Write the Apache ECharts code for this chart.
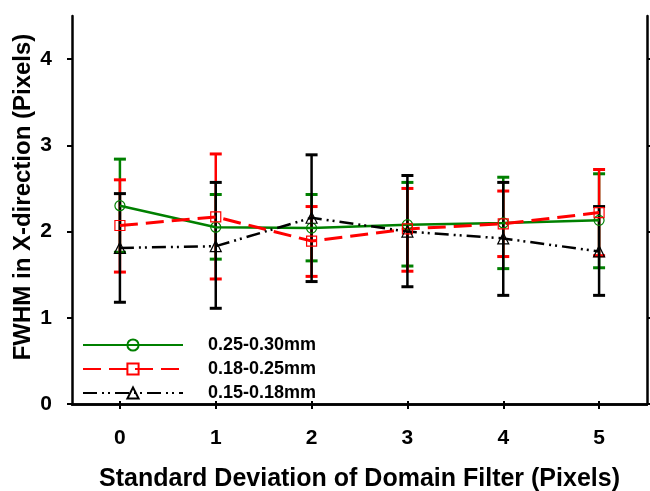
<!DOCTYPE html>
<html>
<head>
<meta charset="utf-8">
<script src="https://cdn.jsdelivr.net/npm/echarts@6/dist/echarts.min.js"></script>
<style>
  html, body { margin: 0; padding: 0; background: #fff; }
  #chart { width: 650px; height: 491px; }
</style>
</head>
<body>
<div id="chart"></div>
<script>
var categories = ['0', '1', '2', '3', '4', '5'];
var yTicks = [0, 1, 2, 3, 4];
var seriesNames = ['0.25-0.30mm', '0.18-0.25mm', '0.15-0.18mm'];

// means and error-bar ends
var mean1 = [2.30, 2.05, 2.04, 2.08, 2.10, 2.13];
var low1  = [1.76, 1.68, 1.66, 1.60, 1.57, 1.58];
var high1 = [2.84, 2.43, 2.43, 2.57, 2.63, 2.67];

var mean2 = [2.07, 2.17, 1.89, 2.03, 2.09, 2.22];
var low2  = [1.53, 1.45, 1.48, 1.54, 1.71, 1.72];
var high2 = [2.60, 2.90, 2.29, 2.50, 2.47, 2.72];

var mean3 = [1.81, 1.83, 2.16, 2.00, 1.92, 1.77];
var low3  = [1.18, 1.11, 1.42, 1.36, 1.26, 1.26];
var high3 = [2.44, 2.57, 2.89, 2.65, 2.57, 2.29];

var colors = ['#008000', '#ff0000', '#000000'];
var font = 'Liberation Sans';

function barData(low, high) {
  return low.map(function (v, i) { return [i, v, high[i]]; });
}

function errorBar(color) {
  return function (params, api) {
    var x = api.value(0);
    var p1 = api.coord([x, api.value(1)]);
    var p2 = api.coord([x, api.value(2)]);
    var w = 6;
    return {
      type: 'group',
      children: [
        { type: 'line', shape: { x1: p1[0], y1: p1[1], x2: p2[0], y2: p2[1] },
          style: { stroke: color, lineWidth: 2.5 } },
        { type: 'line', shape: { x1: p1[0] - w, y1: p1[1], x2: p1[0] + w, y2: p1[1] },
          style: { stroke: color, lineWidth: 3 } },
        { type: 'line', shape: { x1: p2[0] - w, y1: p2[1], x2: p2[0] + w, y2: p2[1] },
          style: { stroke: color, lineWidth: 3 } }
      ]
    };
  };
}

function bars(low, high, color, z) {
  return {
    type: 'custom',
    renderItem: errorBar(color),
    data: barData(low, high),
    encode: { x: 0, y: [1, 2] },
    z: z,
    silent: true
  };
}

var myChart = echarts.init(document.getElementById('chart'));

var axisLine = { show: true, lineStyle: { color: '#000', width: 2.5 } };

var option = {
  animation: false,
  textStyle: { fontFamily: font },
  grid: { left: 72, top: 16, right: 3, bottom: 87, containLabel: false, outerBoundsMode: 'none' },
  legend: {
    orient: 'vertical',
    left: 77,
    top: 331,
    itemWidth: 100,
    itemHeight: 14,
    itemGap: 6,
    data: seriesNames,
    textStyle: { fontSize: 18, fontWeight: 'bold', color: '#000', padding: [0, 0, 0, 20] }
  },
  xAxis: [
    {
      type: 'category',
      data: categories,
      boundaryGap: true,
      position: 'bottom',
      axisLine: axisLine,
      axisTick: { show: true, alignWithLabel: true, length: 5, lineStyle: { color: '#000', width: 2 } },
      axisLabel: { fontSize: 21, fontWeight: 'bold', color: '#000', margin: 24 },
      splitLine: { show: false },
      name: 'Standard Deviation of Domain Filter (Pixels)',
      nameLocation: 'middle',
      nameGap: 63,
      nameMoveOverlap: false,
      nameTextStyle: { fontSize: 25, fontWeight: 'bold', color: '#000' }
    },
    {
      type: 'category',
      data: categories,
      boundaryGap: true,
      position: 'top',
      axisLine: axisLine,
      axisTick: { show: true, alignWithLabel: true, length: 3, lineStyle: { color: '#000', width: 2 } },
      axisLabel: { show: false }
    }
  ],
  yAxis: [
    {
      type: 'value',
      min: 0,
      max: 4.5,
      position: 'left',
      axisLine: axisLine,
      axisTick: { show: true, length: 5, customValues: yTicks, lineStyle: { color: '#000', width: 2 } },
      axisLabel: { fontSize: 21, fontWeight: 'bold', color: '#000', margin: 20, customValues: yTicks },
      splitLine: { show: false },
      name: 'FWHM in X-direction (Pixels)',
      nameLocation: 'middle',
      nameGap: 37,
      nameMoveOverlap: false,
      nameTextStyle: { fontSize: 24, fontWeight: 'bold', color: '#000', padding: [0, 0, 0, 26] }
    },
    {
      type: 'value',
      min: 0,
      max: 4.5,
      position: 'right',
      axisLine: axisLine,
      axisTick: { show: true, length: 3, customValues: yTicks, lineStyle: { color: '#000', width: 2 } },
      axisLabel: { show: false },
      splitLine: { show: false }
    }
  ],
  series: [
    bars(low1, high1, colors[0], 2),
    bars(low2, high2, colors[1], 2),
    bars(low3, high3, colors[2], 2),
    {
      name: seriesNames[0],
      type: 'line',
      data: mean1,
      color: colors[0],
      symbol: 'circle',
      symbolSize: 10,
      itemStyle: { color: 'rgba(255,255,255,0)', borderColor: colors[0], borderWidth: 1.2 },
      lineStyle: { color: colors[0], width: 2.5, type: 'solid' },
      z: 3
    },
    {
      name: seriesNames[1],
      type: 'line',
      data: mean2,
      color: colors[1],
      symbol: 'rect',
      symbolSize: 10,
      itemStyle: { color: 'rgba(255,255,255,0)', borderColor: colors[1], borderWidth: 1.2 },
      lineStyle: { color: colors[1], width: 3, type: [18, 8] },
      z: 3
    },
    {
      name: seriesNames[2],
      type: 'line',
      data: mean3,
      color: colors[2],
      symbol: 'triangle',
      symbolSize: 11,
      itemStyle: { color: 'rgba(255,255,255,0)', borderColor: colors[2], borderWidth: 1.2 },
      lineStyle: { color: colors[2], width: 2.5, type: [14, 5, 2, 4, 2, 5] },
      z: 3
    }
  ]
};

myChart.setOption(option);
</script>
</body>
</html>
